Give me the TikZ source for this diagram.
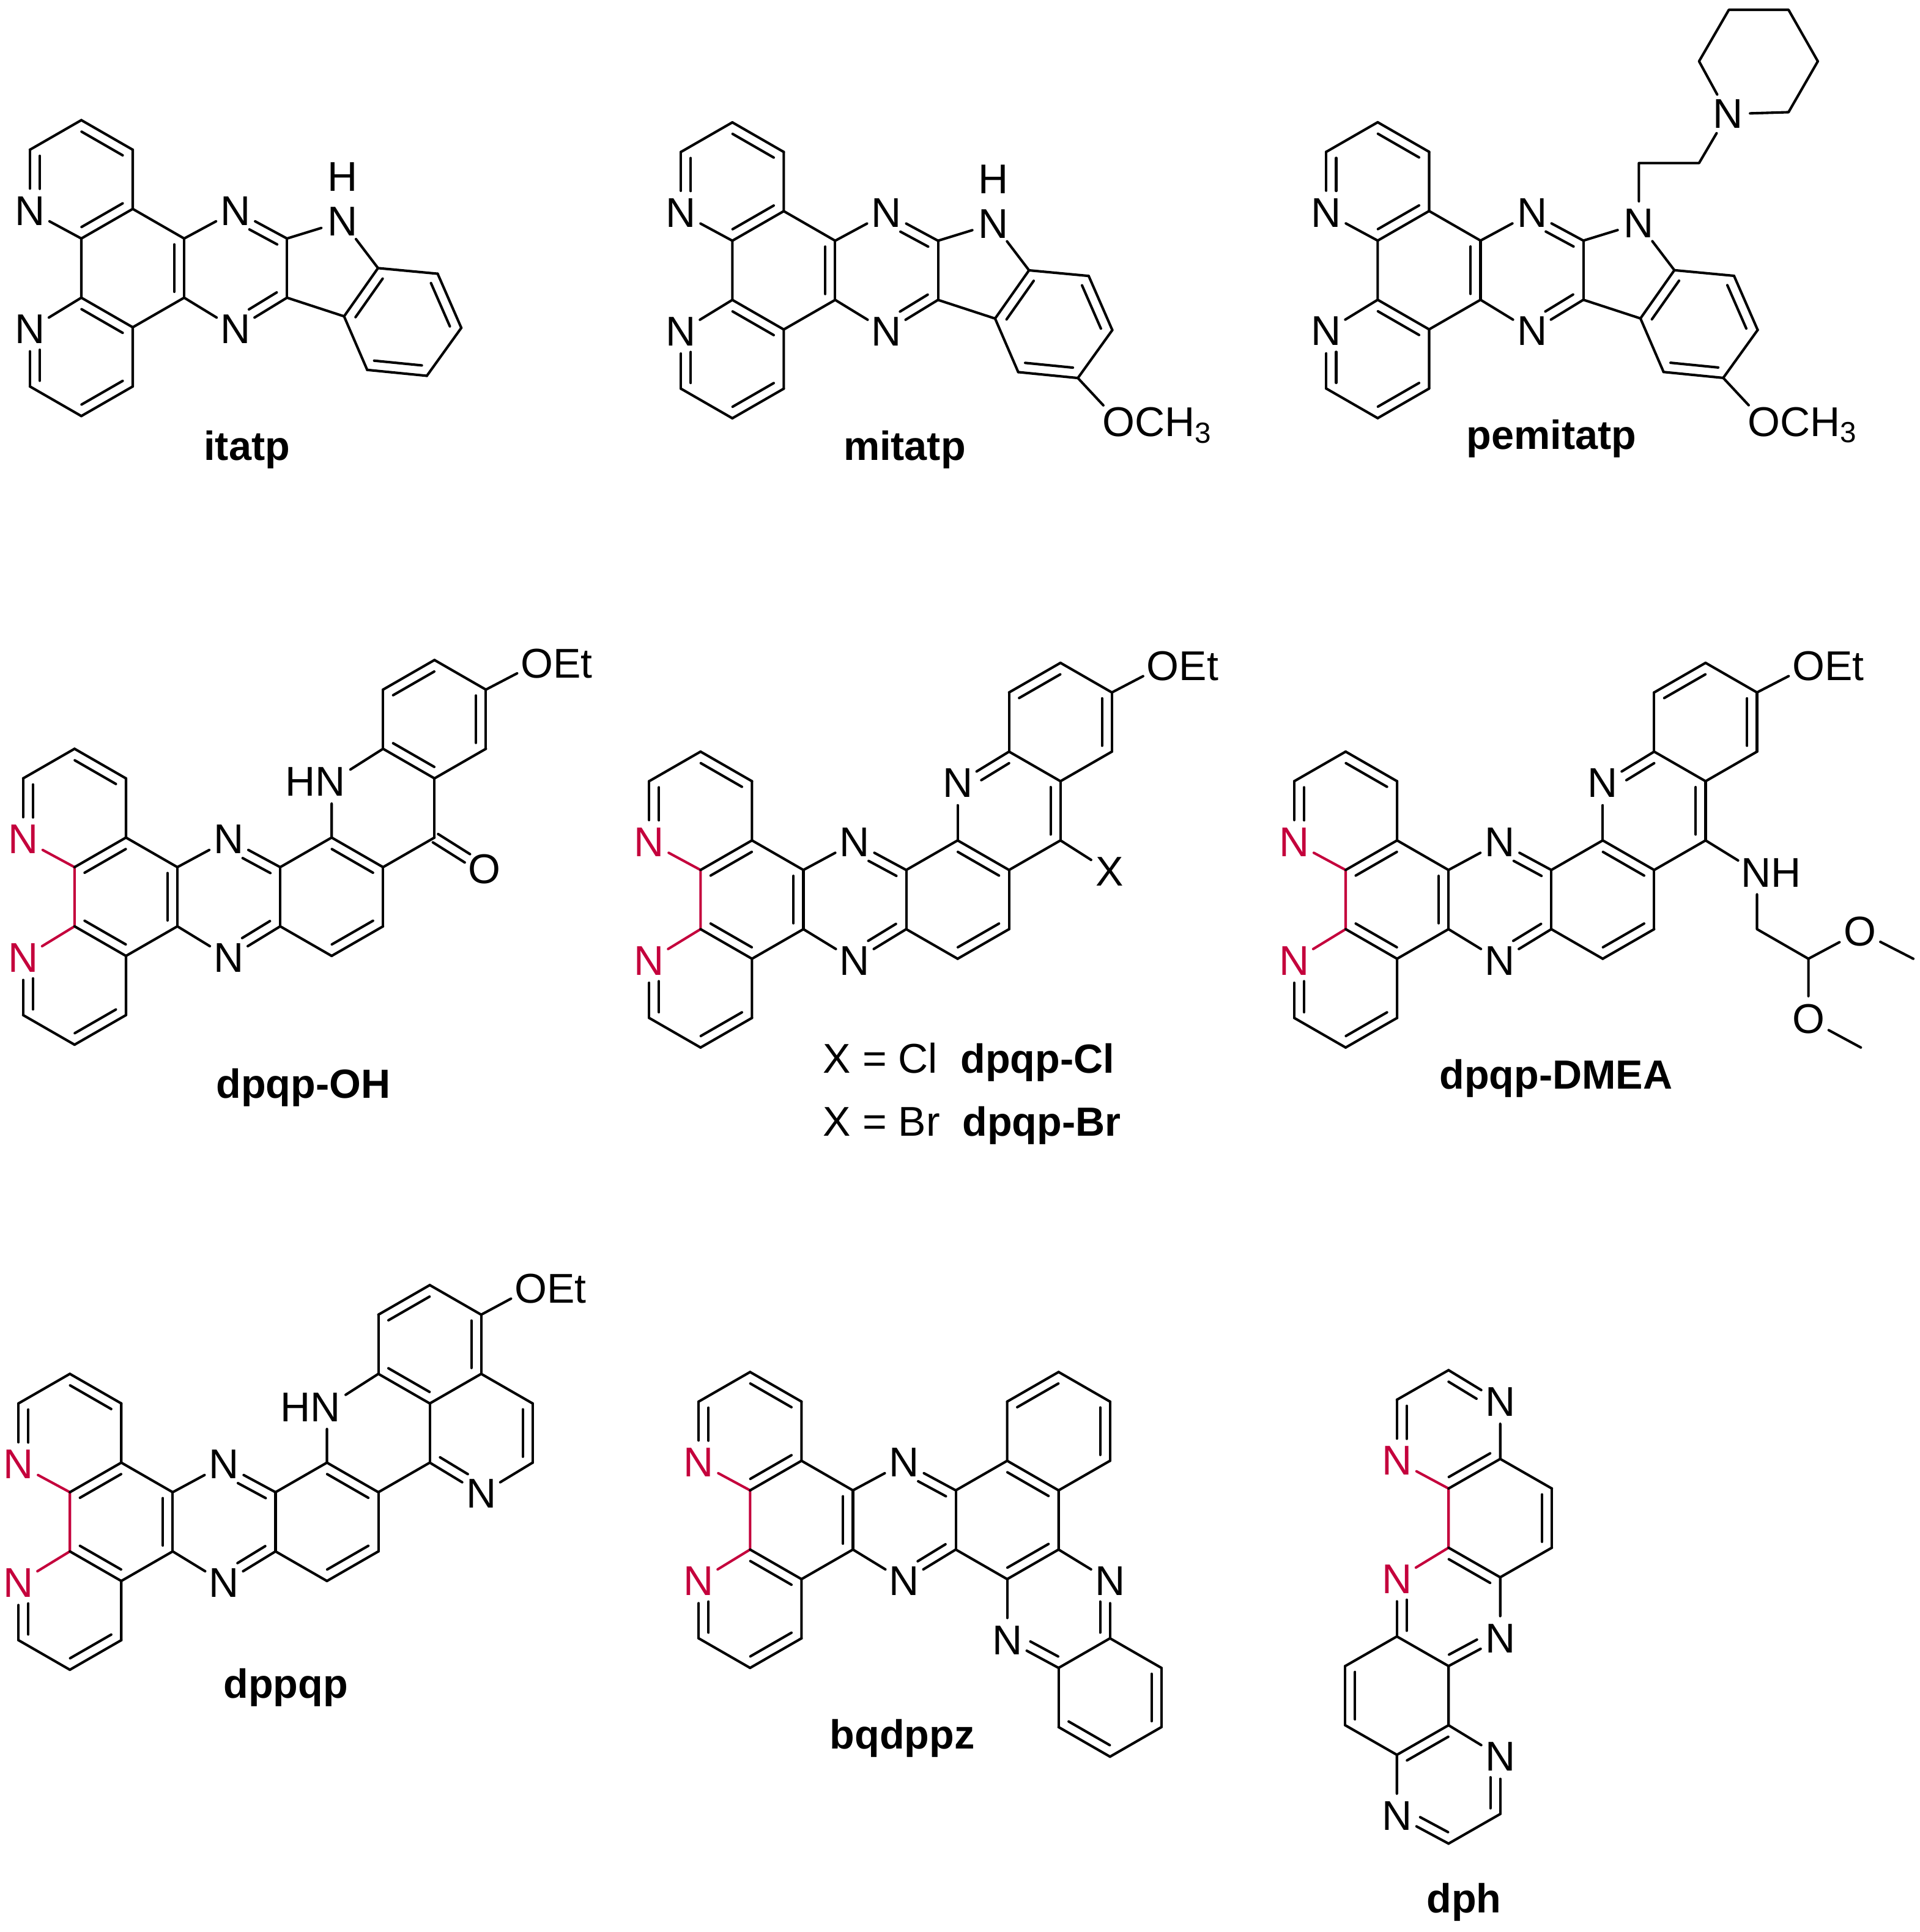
\documentclass[tikz,border=0pt]{standalone}
\usepackage{fontspec}
\setmainfont{Liberation Sans}
\usetikzlibrary{calc}
\definecolor{rubine}{HTML}{C4003C}
\tikzset{
	lat/.style={x=0.417cm,y=-0.24cm},
	atom/.style={circle,inner sep=0pt,minimum size=0.34cm,yshift=-0.015cm,font=\fontsize{9.6}{11}\selectfont},
	atext/.style={inner sep=0pt,font=\fontsize{9.6}{11}\selectfont},
	molname/.style={inner sep=0pt,anchor=base,font=\fontsize{9.4}{11}\selectfont\bfseries},
}
% double bonds: the inner line lies left of the direction a -> b
\newcommand{\dblb}[4]{\draw (#1) -- (#2); \draw ($(#1)!#3!(#2)!0.08cm!90:(#2)$) -- ($(#1)!#4!(#2)!0.08cm!90:(#2)$);}
\newcommand{\db}[2]{\dblb{#1}{#2}{0.1}{0.9}}
\newcommand{\dbe}[2]{\dblb{#1}{#2}{0.1}{0.64}}
\newcommand{\dbs}[2]{\dblb{#1}{#2}{0.36}{0.9}}
% group whose bond ends at its first or last letter
\newcommand{\grp}[3]{\node[atom] (#1) at #2 {}; \node[atext,anchor=base west,xshift=-0.14cm,yshift=-0.12cm] (#1t) at (#1) {#3};}
\newcommand{\hngrp}[2]{\node[atom] (#1) at #2 {}; \node[atext,anchor=base east,xshift=0.122cm,yshift=-0.12cm] (#1t) at (#1) {HN};}
% the part all molecules share
\newcommand{\dpcore}[1]{%
	\coordinate (a1) at (0,0); \coordinate (a2) at (1,1); \coordinate (a3) at (1,3);
	\coordinate (a4) at (0,4); \coordinate (a6) at (-1,1);
	\coordinate (c1) at (2,4); \coordinate (c2) at (2,6);
	\coordinate (b1) at (1,7); \coordinate (b2) at (1,9); \coordinate (b3) at (0,10);
	\coordinate (b4) at (-1,9); \coordinate (b6) at (0,6);
	\coordinate (d1) at (4,4); \coordinate (d2) at (4,6);
	\node[atom,text=#1] (Na) at (-1,3) {N};
	\node[atom,text=#1] (Nb) at (-1,7) {N};
	\node[atom] (Nc) at (3,3) {N};
	\node[atom] (Nd) at (3,7) {N};
	\draw (a6) -- (a1); \draw (a2) -- (a3) -- (c1) -- (Nc);
	\draw (Nd) -- (c2) -- (b1) -- (b2); \draw (b3) -- (b4); \draw (d1) -- (d2);
	\draw[#1] (Na) -- (a4) -- (b6) -- (Nb);
	\db{a2}{a1} \dbe{a6}{Na} \db{c2}{c1} \dbe{d1}{Nc} \dbs{Nd}{d2} \db{b3}{b2} \dbs{Nb}{b4}
}
\newcommand{\pyrdb}{\db{a4}{a3} \db{b1}{b6}}
\newcommand{\cendb}{\db{a3}{a4} \db{b6}{b1}}
% fused five-ring and benzene of the first row
\newcommand{\indolo}{%
	\node[atom] (Ni) at (5.08,3.36) {N};
	\coordinate (p0) at (5.77,5); \coordinate (p1) at (6.93,5.19); \coordinate (p2) at (7.39,7.02);
	\coordinate (p3) at (6.72,8.64); \coordinate (p4) at (5.56,8.44); \coordinate (p5) at (5.11,6.63);
	\draw (d1) -- (Ni) -- (p0) -- (p1); \draw (p2) -- (p3); \draw (p4) -- (p5) -- (d2);
	\db{p0}{p5} \db{p2}{p1} \db{p4}{p3}
}
\newcommand{\methoxy}{\grp{Om}{(7.51,10.05)}{OCH\textsubscript{3}} \draw (p3) -- (Om);}
% rings of the second and third row
\newcommand{\dpqbase}[1]{%
	\coordinate (e1) at (5,3); \coordinate (e2) at (6,4); \coordinate (e3) at (6,6); \coordinate (e4) at (5,7);
	\coordinate (f1) at (6,0); \coordinate (f2) at (7,1); \coordinate (g1) at (7,3);
	\coordinate (h1) at (6,-2); \coordinate (h2) at (7,-3); \coordinate (h3) at (8,-2); \coordinate (h4) at (8,0);
	\grp{Oe}{#1}{OEt}
	\draw (d1) -- (e1); \draw (e2) -- (e3); \draw (e4) -- (d2); \draw (e2) -- (g1);
	\draw (f1) -- (h1); \draw (h2) -- (h3) -- (Oe); \draw (h4) -- (f2);
	\db{e2}{e1} \db{e4}{e3} \db{h2}{h1} \db{h4}{h3}
}
\begin{document}
\begin{tikzpicture}[x=0.01cm,y=-0.01cm,line width=0.58pt,line cap=round,line join=round]
	\useasboundingbox (0,0) rectangle (1558,1568);

	% itatp
	\begin{scope}[shift={(66,97.5)},lat]
		\dpcore{black} \pyrdb \indolo
		\node[atom] (Hi) at (5.08,1.85) {H};
		\node[molname] (itatp) at (3.22,11.5) {itatp};
	\end{scope}

	% mitatp
	\begin{scope}[shift={(594.3,99.3)},lat]
		\dpcore{black} \pyrdb \indolo \methoxy
		\node[atom] (Hm) at (5.08,1.85) {H};
		\node[molname] (mitatp) at (3.35,11.42) {mitatp};
	\end{scope}

	% pemitatp
	\begin{scope}[shift={(1118,99.2)},lat]
		\dpcore{black} \pyrdb \indolo \methoxy
		\coordinate (ca) at (5.08,1.38); \coordinate (cb) at (6.25,1.38);
		\node[atom] (Np) at (6.81,-0.34) {N};
		\coordinate (r1) at (6.25,-2.06); \coordinate (r2) at (6.83,-3.8); \coordinate (r3) at (7.99,-3.8);
		\coordinate (r4) at (8.56,-2.06); \coordinate (r5) at (7.99,-0.34);
		\draw (Ni) -- (ca) -- (cb) -- (Np);
		\draw (Np) -- (r1) -- (r2) -- (r3) -- (r4) -- (r5) -- (Np);
		\node[molname] (pemitatp) at (3.38,11.06) {pemitatp};
	\end{scope}

	% dpqp-OH
	\begin{scope}[shift={(60.5,607.7)},lat]
		\dpcore{rubine} \cendb \dpqbase{(8.99,-2.96)}
		\hngrp{Nh}{(5,1.04)}
		\node[atom] (Ok) at (7.97,4) {O};
		\draw (e1) -- (Nh) -- (f1); \draw (f2) -- (g1);
		\db{f1}{f2}
		\draw ($(g1)!0.02!(Ok)!0.04cm!90:(Ok)$) -- ($(g1)!0.66!(Ok)!0.04cm!90:(Ok)$);
		\draw ($(g1)!0.02!(Ok)!0.04cm!-90:(Ok)$) -- ($(g1)!0.66!(Ok)!0.04cm!-90:(Ok)$);
		\node[molname] (dpqpOH) at (4.45,11.8) {dpqp-OH};
	\end{scope}

	% dpqp-Cl, dpqp-Br
	\begin{scope}[shift={(568.5,610)},lat]
		\dpcore{rubine} \cendb \dpqbase{(8.99,-2.96)}
		\node[atom] (Nq) at (5,1) {N};
		\node[atom] (Xa) at (7.96,4) {X};
		\draw (e1) -- (Nq); \draw (f1) -- (f2); \draw (g1) -- (Xa);
		\dbe{f1}{Nq} \db{g1}{f2}
	\end{scope}
	\node[atext,anchor=base west] (xcl) at (667,871) {X = Cl};
	\node[molname,anchor=base west] (dpqpCl) at (778.5,871) {dpqp-Cl};
	\node[atext,anchor=base west] (xbr) at (667,922) {X = Br};
	\node[molname,anchor=base west] (dpqpBr) at (780,922) {dpqp-Br};

	% dpqp-DMEA
	\begin{scope}[shift={(1092,610)},lat]
		\dpcore{rubine} \cendb \dpqbase{(9,-2.96)}
		\node[atom] (Nq) at (5,1) {N};
		\grp{Ne}{(8,4.01)}{NH}
		\coordinate (s1) at (8,6); \coordinate (s2) at (9,7);
		\node[atom] (Ou) at (10,6.01) {O};
		\node[atom] (Ov) at (9,8.98) {O};
		\coordinate (m1) at (11.04,7); \coordinate (m2) at (10.02,10);
		\draw (e1) -- (Nq); \draw (f1) -- (f2); \draw (g1) -- (Ne) -- (s1) -- (s2);
		\draw (s2) -- (Ou) -- (m1); \draw (s2) -- (Ov) -- (m2);
		\dbe{f1}{Nq} \db{g1}{f2}
		\node[molname] (dpqpDMEA) at (4.09,11.4) {dpqp-DMEA};
	\end{scope}

	% dppqp
	\begin{scope}[shift={(56.7,1115)},lat]
		\dpcore{rubine} \cendb \dpqbase{(8.96,-2.96)}
		\hngrp{Nh}{(5,1.05)}
		\coordinate (q1) at (9,1); \coordinate (q2) at (9,3);
		\node[atom] (Ny) at (8,3.99) {N};
		\draw (e1) -- (Nh) -- (f1); \draw (f2) -- (g1); \draw (h4) -- (q1); \draw (q2) -- (Ny);
		\db{f1}{f2} \db{q2}{q1} \dbe{g1}{Ny}
		\node[molname] (dppqp) at (4.2,10.96) {dppqp};
	\end{scope}

	% bqdppz
	\begin{scope}[shift={(608.7,1113.5)},lat]
		\dpcore{rubine} \pyrdb
		\coordinate (e1) at (5,3); \coordinate (e2) at (6,4); \coordinate (e3) at (6,6); \coordinate (e4) at (5,7);
		\coordinate (k1) at (5,1); \coordinate (k2) at (6,0); \coordinate (k3) at (7,1); \coordinate (k4) at (7,3);
		\node[atom] (Nx) at (7,7) {N};
		\node[atom] (Ny) at (5,9) {N};
		\coordinate (u1) at (6,10); \coordinate (u2) at (7,9); \coordinate (u3) at (8,10);
		\coordinate (u4) at (8,12); \coordinate (u5) at (7,13); \coordinate (u6) at (6,12);
		\draw (d1) -- (e1) -- (k1); \draw (k2) -- (k3); \draw (k4) -- (e2) -- (e3) -- (Nx);
		\draw (e4) -- (d2); \draw (e4) -- (Ny); \draw (u1) -- (u2) -- (u3); \draw (u4) -- (u5); \draw (u6) -- (u1);
		\db{e2}{e1} \db{e4}{e3} \db{k2}{k1} \db{k4}{k3}
		\dbs{Ny}{u1} \dbe{u2}{Nx} \db{u4}{u3} \db{u6}{u5}
		\node[molname] (bqdppz) at (2.96,12.73) {bqdppz};
	\end{scope}

	% dph
	\begin{scope}[shift={(1175.5,1112)},lat,x=0.419cm]
		\coordinate (v1) at (0,0); \coordinate (v3) at (1,3); \coordinate (v4) at (0,4); \coordinate (v6) at (-1,1);
		\coordinate (v7) at (2,4); \coordinate (v8) at (2,6); \coordinate (v9) at (1,7); \coordinate (v10) at (0,6);
		\coordinate (v11) at (0,10); \coordinate (v12) at (-1,9); \coordinate (v13) at (-2,10); \coordinate (v14) at (-2,12);
		\coordinate (v15) at (-1,13); \coordinate (v16) at (0,12); \coordinate (v17) at (1,15); \coordinate (v18) at (0,16);
		\node[atom] (Na) at (1,1) {N};
		\node[atom,text=rubine] (Nb) at (-1,3) {N};
		\node[atom] (Nc) at (1,9) {N};
		\node[atom,text=rubine] (Nd) at (-1,7) {N};
		\node[atom] (Ne) at (1,13) {N};
		\node[atom] (Nf) at (-1,15) {N};
		\draw (v6) -- (v1); \draw (Na) -- (v3) -- (v7); \draw (v8) -- (v9) -- (Nc);
		\draw (v11) -- (v12) -- (v13); \draw (v14) -- (v15) -- (Nf);
		\draw (v11) -- (v16) -- (Ne); \draw (v17) -- (v18);
		\draw[rubine] (Nb) -- (v4) -- (v10) -- (Nd);
		\dbs{Na}{v1} \db{v4}{v3} \dbe{v6}{Nb} \db{v8}{v7} \db{v9}{v10}
		\dbs{Nd}{v12} \dbe{v11}{Nc} \db{v13}{v14} \db{v16}{v15} \dbe{v17}{Ne} \dbs{Nf}{v18}
		\node[molname] (dph) at (0.3,18.33) {dph};
	\end{scope}
\end{tikzpicture}
\end{document}
